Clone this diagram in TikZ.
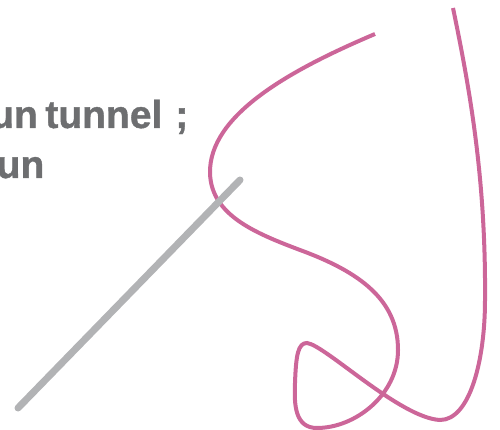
\documentclass[tikz,border=0pt]{standalone}
\usepackage{fontspec}
\setmainfont{Liberation Sans}
\newfontfamily\labelfont[FakeBold=1]{Liberation Sans Bold}
\definecolor{textgray}{HTML}{6D6E70}
\definecolor{threadpink}{HTML}{CC6699}
\definecolor{needlegray}{HTML}{B2B3B5}

\begin{document}
\begin{tikzpicture}[x=1pt, y=-1pt,
  every node/.style={font=\fontsize{39}{47}\labelfont, text=textgray, inner sep=0pt}]
  \useasboundingbox (0,0) rectangle (500,430);
  \clip (0,0) rectangle (500,430);

  % Text
  \node[anchor=base west] (line1) at (-10,128) {un\hspace{7.5pt}tunnel\hspace{13pt};};
  \node[anchor=base west] (line2) at (-3.5,178) {un};

  % Thread
  \draw[threadpink, line width=4pt]
    (375,34) .. controls (290,70) and (209,115) .. (210,173)
    .. controls (211,215) and (255,233) .. (300,250)
    .. controls (360,272) and (398,300) .. (398,350)
    .. controls (398,395) and (355,428) .. (317,428)
    .. controls (295,428) and (294,405) .. (295,383)
    .. controls (296,355) and (298,343) .. (307,343)
    .. controls (325,345) and (400,418) .. (440,420)
    .. controls (470,420) and (485,360) .. (485,300)
    .. controls (486,180) and (470,90) .. (453,8);

  % Needle
  \coordinate (eye) at (18,408);
  \coordinate (tip) at (240,180);
  \draw[needlegray, line width=7pt, line cap=round] (eye) -- (tip);
\end{tikzpicture}
\end{document}
